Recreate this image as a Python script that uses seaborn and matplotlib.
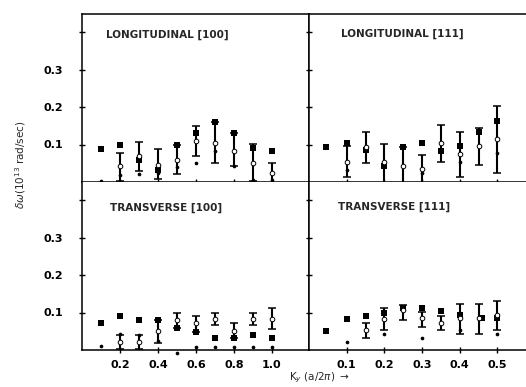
import numpy as np
import pandas as pd
import seaborn as sns
import matplotlib.pyplot as plt

sns.set_style("ticks")
plt.rcParams['font.family'] = ['DejaVu Sans']

# LONGITUDINAL [100]
l100_sq_x = [0.1, 0.2, 0.3, 0.4, 0.5, 0.6, 0.7, 0.8, 0.9, 1.0]
l100_sq = [0.087, 0.100, 0.058, 0.031, 0.098, 0.131, 0.161, 0.132, 0.092, 0.083]
l100_dot_x = [0.1, 0.2, 0.3, 0.4, 0.5, 0.6, 0.7, 0.8, 0.9, 1.0]
l100_dot = [0.004, 0.018, 0.022, 0.024, 0.040, 0.050, 0.082, 0.042, 0.006, 0.005]
l100_exp_x = [0.2, 0.3, 0.4, 0.5, 0.6, 0.7, 0.8, 0.9, 1.0]
l100_exp = [0.042, 0.069, 0.046, 0.058, 0.110, 0.103, 0.083, 0.052, 0.024]
l100_hi = [0.078, 0.107, 0.087, 0.098, 0.149, 0.159, 0.130, 0.102, 0.052]
l100_lo = [0.002, 0.029, 0.007, 0.022, 0.070, 0.052, 0.042, 0.004, -0.003]

# LONGITUDINAL [111]
l111_sq_x = [0.045, 0.1, 0.15, 0.2, 0.25, 0.3, 0.35, 0.4, 0.45, 0.5]
l111_sq = [0.094, 0.103, 0.085, 0.044, 0.093, 0.103, 0.082, 0.096, 0.134, 0.164]
l111_dot_x = [0.1, 0.2, 0.3, 0.4, 0.5]
l111_dot = [0.032, -0.017, 0.025, 0.053, 0.078]
l111_exp_x = [0.1, 0.15, 0.2, 0.25, 0.3, 0.35, 0.4, 0.45, 0.5]
l111_exp = [0.053, 0.094, 0.053, 0.042, 0.035, 0.104, 0.075, 0.096, 0.115]
l111_hi = [0.096, 0.133, 0.102, 0.093, 0.073, 0.153, 0.134, 0.144, 0.204]
l111_lo = [0.013, 0.051, -0.006, -0.006, -0.004, 0.054, 0.014, 0.046, 0.025]

# TRANSVERSE [100]
t100_sq_x = [0.1, 0.2, 0.3, 0.4, 0.5, 0.6, 0.7, 0.8, 0.9, 1.0]
t100_sq = [0.071, 0.091, 0.079, 0.079, 0.060, 0.049, 0.031, 0.031, 0.040, 0.031]
t100_dot_x = [0.1, 0.2, 0.3, 0.4, 0.5, 0.6, 0.7, 0.8, 0.9, 1.0]
t100_dot = [0.011, 0.042, 0.040, 0.024, -0.009, 0.008, 0.008, 0.008, 0.009, 0.008]
t100_exp_x = [0.2, 0.3, 0.4, 0.5, 0.6, 0.7, 0.8, 0.9, 1.0]
t100_exp = [0.022, 0.022, 0.051, 0.079, 0.071, 0.082, 0.051, 0.082, 0.082]
t100_hi = [0.040, 0.040, 0.079, 0.100, 0.091, 0.100, 0.071, 0.100, 0.112]
t100_lo = [0.004, 0.004, 0.020, 0.060, 0.049, 0.066, 0.031, 0.067, 0.055]

# TRANSVERSE [111]
t111_sq_x = [0.045, 0.1, 0.15, 0.2, 0.25, 0.3, 0.35, 0.4, 0.46, 0.5]
t111_sq = [0.052, 0.082, 0.092, 0.098, 0.112, 0.112, 0.103, 0.094, 0.085, 0.085]
t111_dot_x = [0.1, 0.2, 0.3, 0.4, 0.5]
t111_dot = [0.022, 0.042, 0.033, 0.054, 0.043]
t111_exp_x = [0.15, 0.2, 0.25, 0.3, 0.35, 0.4, 0.45, 0.5]
t111_exp = [0.054, 0.082, 0.107, 0.085, 0.073, 0.085, 0.085, 0.094]
t111_hi = [0.071, 0.112, 0.121, 0.101, 0.091, 0.122, 0.122, 0.132]
t111_lo = [0.031, 0.054, 0.080, 0.062, 0.054, 0.042, 0.042, 0.054]

y_ticks = [0.1, 0.2, 0.3, 0.4]
y_labels = ["0.1", "0.2", "0.3", ""]
x100_ticks = [0.2, 0.4, 0.6, 0.8, 1.0]
x100_labels = ["0.2", "0.4", "0.6", "0.8", "1.0"]
x111_ticks = [0.1, 0.2, 0.3, 0.4, 0.5]
x111_labels = ["0.1", "0.2", "0.3", "0.4", "0.5"]


def panel(ax, sq_x, sq, dot_x, dot, exp_x, exp, hi, lo, title, tx, ty):
    exp = np.array(exp)
    yerr = [exp - np.array(lo), np.array(hi) - exp]
    ax.errorbar(exp_x, exp, yerr=yerr, fmt="none", ecolor="black",
                elinewidth=1.5, capsize=2.8, capthick=1.1, clip_on=False, zorder=2)
    sns.scatterplot(x=sq_x, y=sq, ax=ax, marker="s", s=13, color="black",
                    linewidth=0, clip_on=False, zorder=3)
    sns.scatterplot(x=dot_x, y=dot, ax=ax, marker="o", s=7, color="black",
                    linewidth=0, clip_on=False, zorder=3)
    sns.scatterplot(x=exp_x, y=exp, ax=ax, marker="o", s=11, facecolor="white",
                    edgecolor="black", linewidth=0.7, clip_on=False, zorder=4)
    ax.text(tx, ty, title, transform=ax.transAxes, fontsize=7.5,
            fontweight="bold", ha="left", va="center")
    ax.set_ylim(0, 0.448)
    ax.set_yticks(y_ticks)
    ax.tick_params(direction="inout", length=5, width=1, labelsize=8,
                   colors="black")
    ax.tick_params(axis="y", pad=11)
    ax.tick_params(axis="x", pad=5)
    for lab in ax.get_xticklabels() + ax.get_yticklabels():
        lab.set_fontweight("bold")
    for s in ax.spines.values():
        s.set_linewidth(1.1)
        s.set_color("black")


fig = plt.figure(figsize=(5.26, 3.87), dpi=100)
x0, xm, x1 = 82 / 526, 309 / 526, 1.0
y0, ym, y1 = 1 - 350 / 387, 1 - 182 / 387, 1 - 14 / 387

ax_l100 = fig.add_axes([x0, ym, xm - x0, y1 - ym])
ax_l111 = fig.add_axes([xm, ym, x1 - xm, y1 - ym])
ax_t100 = fig.add_axes([x0, y0, xm - x0, ym - y0])
ax_t111 = fig.add_axes([xm, y0, x1 - xm, ym - y0])

panel(ax_l100, l100_sq_x, l100_sq, l100_dot_x, l100_dot, l100_exp_x, l100_exp,
      l100_hi, l100_lo, "LONGITUDINAL [100]", 0.105, 0.875)
panel(ax_l111, l111_sq_x, l111_sq, l111_dot_x, l111_dot, l111_exp_x, l111_exp,
      l111_hi, l111_lo, "LONGITUDINAL [111]", 0.147, 0.88)
panel(ax_t100, t100_sq_x, t100_sq, t100_dot_x, t100_dot, t100_exp_x, t100_exp,
      t100_hi, t100_lo, "TRANSVERSE [100]", 0.125, 0.845)
panel(ax_t111, t111_sq_x, t111_sq, t111_dot_x, t111_dot, t111_exp_x, t111_exp,
      t111_hi, t111_lo, "TRANSVERSE [111]", 0.134, 0.85)

for ax in (ax_l100, ax_t100):
    ax.set_xlim(0, 1.195)
    ax.set_xticks(x100_ticks)
    ax.set_yticklabels(y_labels, fontweight="bold")
for ax in (ax_l111, ax_t111):
    ax.set_xlim(0, 0.576)
    ax.set_xticks(x111_ticks)
    ax.set_yticklabels([])
    ax.spines["right"].set_visible(False)
for ax in (ax_l100, ax_l111):
    ax.set_xticklabels([])
ax_t100.set_xticklabels(x100_labels, fontweight="bold")
ax_t111.set_xticklabels(x111_labels, fontweight="bold")
ax_t100.spines["top"].set_visible(False)
ax_t111.spines["top"].set_visible(False)

fig.text(0.04, 0.575, r"$\delta\omega(10^{13}$ rad/sec)", rotation=90,
         fontsize=7.5, ha="center", va="center")
fig.text(0.607, 0.025, r"K$_y$ (a/2$\pi$) $\rightarrow$", fontsize=7.5,
         ha="center", va="center")

fig.savefig("out.png", dpi=100)
